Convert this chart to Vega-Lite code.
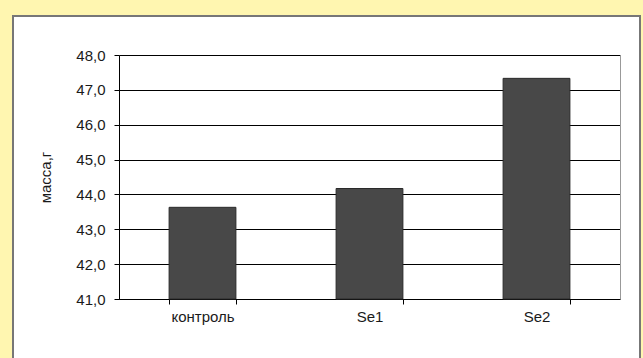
{
  "$schema": "https://vega.github.io/schema/vega-lite/v6.json",
  "width": 627,
  "height": 344,
  "padding": {"left": 13, "top": 16, "right": 3, "bottom": 0},
  "background": "#fff6b0",
  "config": {
    "view": {"fill": "white", "stroke": "#777777", "strokeWidth": 2},
    "font": "Liberation Sans"
  },
  "data": {
    "values": [
      {"group": "контроль", "mass": 43.63},
      {"group": "Se1", "mass": 44.17},
      {"group": "Se2", "mass": 47.33}
    ]
  },
  "layer": [
    {
      "mark": {"type": "bar", "fill": "#484848", "stroke": "#2a2a2a", "strokeWidth": 1},
      "encoding": {
        "x": {
          "field": "group",
          "type": "nominal",
          "sort": null,
          "scale": {"range": [106, 607], "paddingInner": 0.6, "paddingOuter": 0.3},
          "axis": {
            "title": null,
            "labelAngle": 0,
            "labelFontSize": 15,
            "labelColor": "#1a1a1a",
            "labelPadding": 5,
            "tickBand": "extent",
            "tickSize": 5,
            "tickColor": "#000000",
            "domainColor": "#000000",
            "offset": -61,
            "grid": false
          }
        },
        "y": {
          "field": "mass",
          "type": "quantitative",
          "scale": {"domain": [41, 48], "zero": false, "nice": false, "range": [283, 39]},
          "axis": {
            "title": "масса,г",
            "titleFontSize": 15,
            "titleFontWeight": "normal",
            "titleColor": "#1a1a1a",
            "titlePadding": 22,
            "values": [41, 42, 43, 44, 45, 46, 47, 48],
            "labelExpr": "replace(format(datum.value, '.1f'), '.', ',')",
            "labelFontSize": 15,
            "labelColor": "#1a1a1a",
            "labelPadding": 9,
            "tickSize": 5,
            "tickColor": "#000000",
            "domainColor": "#000000",
            "grid": true,
            "gridColor": "#000000",
            "gridOpacity": 1,
            "offset": -106
          }
        },
        "y2": {"datum": 41}
      }
    },
    {
      "mark": {"type": "rule", "opacity": 0},
      "encoding": {
        "y": {
          "field": "mass",
          "type": "quantitative",
          "axis": {
            "orient": "right",
            "title": null,
            "labels": false,
            "ticks": false,
            "grid": false,
            "domainColor": "#999999",
            "offset": -20
          }
        }
      }
    }
  ],
  "resolve": {"axis": {"y": "independent"}}
}
